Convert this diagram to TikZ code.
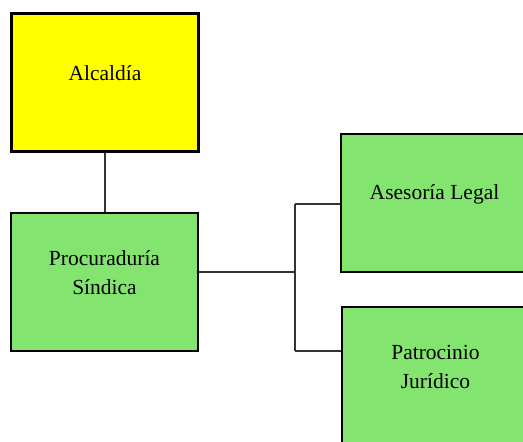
\documentclass[tikz,border=0pt]{standalone}
\usepackage{fontspec}
\setmainfont{Liberation Serif}
\definecolor{boxyellow}{RGB}{255,255,0}
\definecolor{boxgreen}{RGB}{132,228,112}
\begin{document}
\begin{tikzpicture}[x=1pt,y=-1pt,
  unit/.style={draw=black,line width=2.4pt,minimum width=187pt,minimum height=138pt,inner sep=0pt},
  caption/.style={label={[yshift=9pt,align=center,font=\fontsize{21.5}{29}\selectfont]center:#1}},
  link/.style={draw=black!80,line width=1.4pt}]
\clip (0,0) rectangle (523,442);
\fill[white] (0,0) rectangle (523,442);
% organisation units
\node[unit,fill=boxyellow,caption={Alcaldía}] (alc) at (105,82.5) {};
\node[unit,fill=boxgreen,caption={Procuraduría\\Síndica}] (proc) at (104.5,282) {};
\node[unit,fill=boxgreen,caption={Asesoría Legal}] (ase) at (434.5,203) {};
\node[unit,fill=boxgreen,caption={Patrocinio\\Jurídico}] (pat) at (435.5,376) {};
% branching points
\coordinate (bus) at (295,272);
\coordinate (bt) at (295,204);
\coordinate (bb) at (295,351);
% connectors
\draw[link] (alc.south) -- (alc.south |- proc.north);
\draw[link] (proc.east |- bus) -- (bus);
\draw[link] (bt) -- (bb);
\draw[link] (bt) -- (ase.west |- bt);
\draw[link] (bb) -- (pat.west |- bb);
\end{tikzpicture}
\end{document}
